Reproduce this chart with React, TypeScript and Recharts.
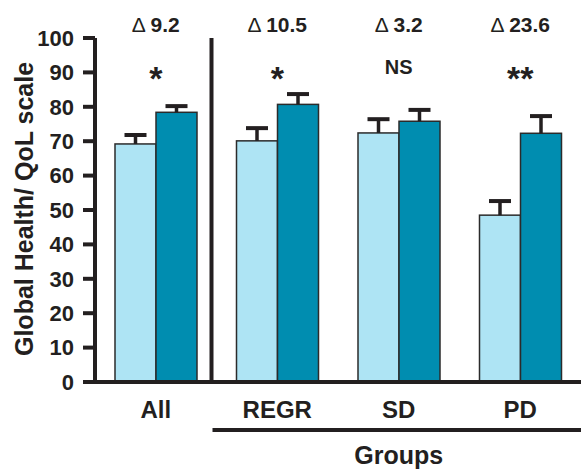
import React from 'react';
import { BarChart, Bar, XAxis, YAxis, ReferenceLine } from 'recharts';

const groups = ['All', 'REGR', 'SD', 'PD'];
const baselineValues = [69.2, 70.1, 72.4, 48.5];
const followUpValues = [78.4, 80.7, 75.8, 72.3];
const baselineErrors = [2.6, 3.7, 4.0, 4.1];
const followUpErrors = [1.8, 3.0, 3.3, 5.0];
const deltaLabels = ['9.2', '10.5', '3.2', '23.6'];
const significance = ['*', '*', 'NS', '**'];
const yTicks = [0, 10, 20, 30, 40, 50, 60, 70, 80, 90, 100];

const data = groups.map((g, i) => ({
  group: g,
  baseline: baselineValues[i],
  followUp: followUpValues[i],
  baselineErr: baselineErrors[i],
  followUpErr: followUpErrors[i],
}));

const INK = '#231f20';
const FONT = '"Liberation Sans", Arial, Helvetica, sans-serif';

const makeShape = (valueKey: string, errKey: string) => (props: any) => {
  const { x, y, width, height, fill, payload } = props;
  const v = payload[valueKey];
  const e = payload[errKey];
  const pxPerUnit = v ? height / v : 0;
  const errPx = e * pxPerUnit;
  const cx = x + width / 2;
  return (
    <g>
      <rect x={x} y={y} width={width} height={height} fill={fill} stroke="#2b2b2b" strokeWidth={1.5} />
      <line x1={cx} x2={cx} y1={y} y2={y - errPx} stroke={INK} strokeWidth={3.5} />
      <line x1={cx - 11} x2={cx + 11} y1={y - errPx} y2={y - errPx} stroke={INK} strokeWidth={4} />
    </g>
  );
};

const TopTick = (props: any) => {
  const { x, y, index } = props;
  return (
    <g>
      <text x={x} y={y - 6} textAnchor="middle" fontFamily={FONT} fontSize={21} fill={INK}>
        <tspan fontWeight="normal">Δ </tspan>
        <tspan fontWeight="bold">{deltaLabels[index]}</tspan>
      </text>
      {significance[index] === 'NS' ? (
        <text x={x} y={y + 36} textAnchor="middle" fontFamily={FONT} fontSize={20} fontWeight="bold" fill={INK}>
          NS
        </text>
      ) : (
        <text x={x} y={y + 52} textAnchor="middle" fontFamily={FONT} fontSize={34} fontWeight="bold" fill={INK}>
          {significance[index]}
        </text>
      )}
    </g>
  );
};

const BottomTick = (props: any) => {
  const { x, y, payload } = props;
  return (
    <text x={x} y={y + 36} textAnchor="middle" fontFamily={FONT} fontSize={24} fontWeight="bold" fill={INK}>
      {payload.value}
    </text>
  );
};

const GroupsLabel = (props: any) => {
  const { viewBox } = props;
  const { x, y, width } = viewBox;
  const band = width / groups.length;
  return (
    <g>
      <line x1={x + band - 4} x2={x + width} y1={y + 48} y2={y + 48} stroke={INK} strokeWidth={4} />
      <text x={x + band + (width - band) / 2} y={y + 82} textAnchor="middle" fontFamily={FONT} fontSize={25} fontWeight="bold" fill={INK}>
        Groups
      </text>
    </g>
  );
};

const YLabel = (props: any) => {
  const { viewBox } = props;
  const { x, y, height } = viewBox;
  const tx = x + 33;
  const ty = y + height / 2 - 1;
  return (
    <text
      x={tx}
      y={ty}
      transform={`rotate(-90 ${tx} ${ty})`}
      textAnchor="middle"
      fontFamily={FONT}
      fontSize={25}
      fontWeight="bold"
      fill={INK}
    >
      Global Health/ QoL scale
    </text>
  );
};

const SepLine = (props: any) => {
  const { x1, y1, x2, y2 } = props;
  return <line x1={x1 - 5} x2={x2 - 5} y1={y1} y2={y2} stroke={INK} strokeWidth={4} />;
};

export default function App() {
  return (
    <div style={{ position: 'absolute', left: 0, top: 0, width: 581, height: 471, background: '#fff' }}>
      <BarChart
        width={581}
        height={471}
        data={data}
        margin={{ top: 0, right: 0, bottom: 0, left: 0 }}
        barGap={0}
        barSize={41}
      >
        <XAxis
          xAxisId="top"
          dataKey="group"
          orientation="top"
          height={38}
          axisLine={false}
          tickLine={false}
          tickSize={0}
          tickMargin={0}
          tick={<TopTick />}
          interval={0}
        />
        <XAxis
          dataKey="group"
          height={89}
          axisLine={{ stroke: INK, strokeWidth: 4 }}
          tickLine={false}
          tickSize={0}
          tickMargin={0}
          tick={<BottomTick />}
          interval={0}
          label={<GroupsLabel />}
        />
        <YAxis
          width={95}
          domain={[0, 100]}
          ticks={yTicks}
          interval={0}
          axisLine={{ stroke: INK, strokeWidth: 4 }}
          tickLine={{ stroke: INK, strokeWidth: 4 }}
          tickSize={12}
          tickMargin={9}
          tick={{ fontFamily: FONT, fontSize: 22, fontWeight: 'bold', fill: INK }}
          label={<YLabel />}
        />
        <ReferenceLine x="All" position="end" stroke={INK} strokeWidth={4} shape={<SepLine />} />
        <Bar dataKey="baseline" fill="#aee4f4" isAnimationActive={false} shape={makeShape('baseline', 'baselineErr')} />
        <Bar dataKey="followUp" fill="#008db0" isAnimationActive={false} shape={makeShape('followUp', 'followUpErr')} />
      </BarChart>
    </div>
  );
}
